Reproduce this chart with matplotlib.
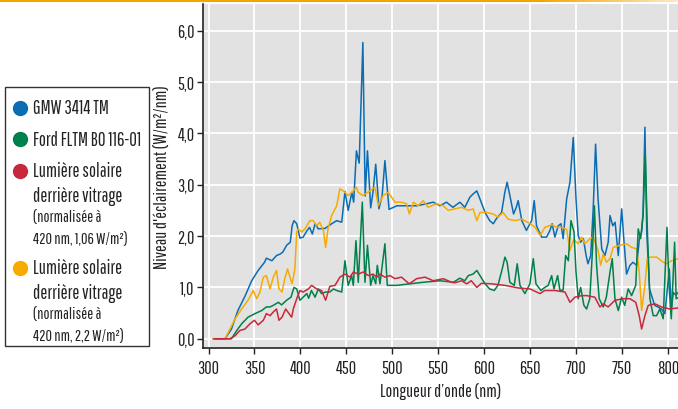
import matplotlib
matplotlib.use("Agg")
import matplotlib.pyplot as plt
import numpy as np
from matplotlib.lines import Line2D
from matplotlib.patches import Rectangle
from matplotlib.colors import LinearSegmentedColormap

plt.rcParams['font.family'] = ['Pathway Gothic One', 'DejaVu Sans']

# --- data (wavelength nm, irradiance W/m2/nm) ---
gmw_nm = [305, 318, 325, 332, 340, 347, 354, 361, 363, 369, 374, 378, 381, 385, 389, 391, 393, 396,
          399.5, 403, 407, 410, 413, 416, 419.5, 427, 434, 439.5, 445, 448.5, 452, 456, 458, 461, 464,
          468, 470.5, 473, 476.5, 479, 482, 485.5, 489, 492, 496.5, 505, 512, 519, 526.5, 535, 544.6,
          552, 559, 566, 573.6, 579, 584.6, 588, 592, 595.5, 601, 606, 610, 613, 619, 622.5, 625, 628,
          632, 635, 637, 641, 646, 651.7, 654.5, 657, 662.6, 668, 671.6, 674, 677, 680.6, 683.6, 686,
          689.8, 693.4, 697, 700, 702.4, 705, 708, 711, 713, 716, 718.7, 721.3, 724, 728, 731.5, 735,
          737, 740, 742.5, 746, 749.7, 752, 755, 758.7, 762, 766, 769, 771.4, 773, 775, 777, 780,
          785.6, 789, 793, 796.8, 801.5, 803.8, 806, 808.7, 811]
gmw_val = [0, 0, 0.19, 0.55, 0.84, 1.13, 1.33, 1.49, 1.57, 1.52, 1.62, 1.65, 1.69, 1.82, 1.88, 2.2, 2.3, 2.24,
           1.96, 1.98, 2.1, 2.17, 2.04, 2.24, 2.14, 2.15, 2.24, 2.3, 2.27, 2.87, 2.5, 2.85, 2.66, 3.66, 3.42,
           5.77, 2.78, 3.66, 2.55, 2.85, 3.4, 2.53, 2.79, 3.47, 2.52, 2.59, 2.59, 2.59, 2.59, 2.62, 2.66,
           2.59, 2.66, 2.56, 2.66, 2.56, 2.76, 2.82, 2.88, 2.72, 2.46, 2.3, 2.24, 2.33, 2.46, 2.85, 3.05, 2.79,
           2.43, 2.56, 2.69, 2.3, 2.11, 2.3, 2.69, 2.2, 1.98, 1.98, 2.11, 2.24, 1.98, 2.2, 2.24, 1.95,
           2.72, 3.05, 3.92, 2.72, 2.01, 1.88, 1.95, 1.62, 1.46, 1.62, 2.53, 3.79, 2.72, 1.75, 1.62, 1.88,
           2.4, 2.2, 2.27, 1.62, 2.53, 1.95, 1.26, 1.43, 1.49, 1.43, 1.95, 2.08, 2.46, 4.12, 2.08, 0.97,
           0.65, 0.62, 0.58, 0.49, 1.36, 0.6, 0.9, 0.85, 0.9]

sun22_nm = [305, 318, 323.4, 329, 336, 343, 348.7, 352.4, 356, 359.6, 363, 367, 370.5, 374, 376.7, 380, 383,
            386, 388.7, 391, 394, 396, 397.7, 401.4, 405, 410.4, 414, 417.7, 421, 425, 427.5, 430, 434,
            439.5, 443, 446.7, 452, 457.6, 461, 463, 468, 475.7, 481, 484.8, 490, 495.6, 503, 510, 515.6,
            518.6, 523, 528, 533.7, 539, 548, 555.5, 561, 568, 575.5, 582.7, 588, 592, 595.5, 602.7, 610,
            615, 620.7, 626, 633.3, 641, 650, 655.5, 661, 666, 673.5, 679, 684, 689.8, 693.4, 697.5, 702.4,
            706, 709.7, 715, 718.7, 724, 726.8, 729.6, 733, 737, 740.5, 747.8, 755, 760.5, 766, 768.8,
            771.4, 775, 777.5, 780.5, 787.7, 795, 798.6, 804, 811]
sun22_val = [0, 0, 0.19, 0.39, 0.58, 0.75, 0.94, 0.78, 0.91, 1.2, 1.23, 0.97, 1.2, 1.33, 0.97, 0.91, 1.17,
             1.36, 1.2, 1.07, 1.36, 2.08, 2.14, 2.08, 2.14, 2.3, 2.3, 2.2, 2.27, 2.11, 1.78, 2.14, 2.4,
             2.59, 2.92, 2.88, 2.79, 2.88, 2.95, 2.85, 2.79, 2.88, 2.95, 2.59, 2.79, 2.85, 2.66, 2.66, 2.63,
             2.43, 2.66, 2.59, 2.69, 2.56, 2.63, 2.59, 2.5, 2.53, 2.56, 2.5, 2.53, 2.3, 2.46, 2.46, 2.43,
             2.37, 2.46, 2.33, 2.3, 2.33, 2.24, 2.17, 2.01, 2.17, 2.22, 2.17, 2.17, 2.13, 1.72, 1.93, 1.85,
             1.98, 1.85, 1.95, 1.98, 1.72, 1.43, 1.65, 1.49, 1.56, 1.78, 1.82, 1.85, 1.78, 1.75, 1.3,
             0.55, 1.04, 1.56, 1.59, 1.59, 1.49, 1.46, 1.52, 1.56]

ford_nm = [308, 325, 330.7, 336, 343, 350.6, 358, 363, 367, 370.5, 376, 379.6, 385, 389.8, 393, 396, 399.5,
           403, 407, 409, 412, 416, 419.5, 423, 427.5, 432, 436, 439.5, 445, 448.5, 452, 455.8, 457.6,
           460.5, 463, 467.4, 470.3, 473, 476.5, 479, 482, 483.7, 486.6, 492, 494.6, 504.8, 519, 533.7,
           552, 566.4, 573.6, 579, 582.7, 588, 592, 595.5, 601, 606, 611, 615, 619.7, 622.6, 625, 628,
           632.8, 636, 639, 644.4, 649.8, 653.5, 656.4, 661.8, 666, 669.7, 673.5, 676, 680, 682.5, 686,
           688.7, 691.6, 694.5, 697.8, 700, 702.4, 705, 708.6, 711.5, 715, 718, 720, 722.4, 725.2, 729.6,
           733, 737, 739.4, 742.4, 746, 749.7, 753, 756.8, 760.5, 765, 767.7, 770.3, 773, 775.3, 777.7,
           780.4, 784, 787.7, 791.3, 794.9, 799, 801, 803.7, 807.3, 809, 811]
ford_val = [0, 0, 0.16, 0.29, 0.42, 0.49, 0.55, 0.62, 0.62, 0.65, 0.71, 0.66, 0.75, 0.81, 1.0, 0.97, 0.75,
            0.81, 0.88, 0.79, 0.94, 0.81, 0.97, 0.88, 0.91, 0.91, 0.97, 0.94, 0.91, 1.52, 1.04, 1.23, 1.04,
            1.91, 1.1, 2.66, 1.1, 1.82, 1.04, 1.23, 1.07, 1.43, 1.07, 1.85, 1.04, 1.04, 1.07, 1.1,
            1.13, 1.1, 1.18, 1.13, 1.23, 1.26, 1.33, 1.23, 1.07, 0.97, 0.94, 1.04, 1.36, 1.59, 1.49, 1.1,
            1.04, 1.46, 1.04, 0.88, 1.07, 1.56, 1.07, 0.94, 1.0, 1.04, 1.23, 0.97, 1.23, 0.94, 0.95,
            1.62, 1.52, 2.3, 2.08, 1.3, 0.78, 1.0, 0.65, 0.58, 0.78, 1.75, 2.59, 1.43, 0.78, 0.62,
            0.81, 1.3, 1.56, 0.78, 0.55, 0.81, 0.65, 0.97, 0.84, 1.04, 2.14, 1.95, 2.4, 3.6, 2.08,
            0.78, 0.45, 0.45, 0.58, 0.39, 2.17, 1.1, 0.39, 1.88, 0.78, 0.8]

sun106_nm = [306, 323.4, 329, 334, 339.7, 345, 350, 354, 359.7, 363, 367, 370.5, 374, 376.7, 380, 384,
             387.6, 390.5, 392.3, 396, 399.5, 403, 408.6, 412.3, 417.7, 423, 427.5, 432, 437.7, 443,
             448.5, 454, 457.6, 463, 468.5, 474, 479, 483, 486.6, 492, 497.5, 503, 510, 518.5, 526.5,
             535.6, 544.6, 555.5, 564.6, 568, 575.5, 581, 586, 592, 597, 608, 622.6, 637, 650, 660.7,
             666, 677, 688, 693.4, 698.8, 706, 711.5, 720.5, 726, 729.6, 735, 742.4, 751.4, 758.7, 765,
             768.8, 771.4, 775, 778.6, 785.9, 793, 802, 811]
sun106_val = [0, 0, 0.06, 0.16, 0.19, 0.29, 0.36, 0.27, 0.36, 0.49, 0.45, 0.52, 0.58, 0.36, 0.42, 0.58,
              0.49, 0.42, 0.58, 0.78, 0.94, 0.91, 0.97, 1.04, 0.97, 0.94, 0.75, 1.02, 1.04, 1.2,
              1.26, 1.2, 1.3, 1.26, 1.3, 1.23, 1.26, 1.2, 1.26, 1.2, 1.23, 1.17, 1.2, 1.07, 1.17,
              1.2, 1.13, 1.17, 1.1, 1.09, 1.13, 1.07, 1.13, 1.0, 1.08, 1.07, 1.04, 0.99, 0.97, 0.88,
              0.94, 0.94, 0.91, 0.71, 0.81, 0.84, 0.84, 0.81, 0.62, 0.68, 0.62, 0.75, 0.78, 0.78, 0.71,
              0.45, 0.19, 0.45, 0.65, 0.68, 0.62, 0.58, 0.6]

x_ticks = [300, 350, 400, 450, 500, 550, 600, 650, 700, 750, 800]
y_ticks = [0, 1, 2, 3, 4, 5, 6]

blue = "#0a6db3"
green = "#00804a"
red = "#c8283a"
orange = "#f7ab00"
ink = "#222222"

fig = plt.figure(figsize=(6.78, 4.10), dpi=100)
ax = fig.add_axes([203 / 678, 1 - 349 / 410, 1 - 203 / 678, 344 / 410])
ax.set_facecolor("#e2e2e2")

ax.plot(gmw_nm, gmw_val, color=blue, lw=1.1)
ax.plot(sun22_nm, sun22_val, color=orange, lw=1.1)
ax.plot(ford_nm, ford_val, color=green, lw=1.1)
ax.plot(sun106_nm, sun106_val, color=red, lw=1.1)

ax.set_xlim(294, 811)
ax.set_ylim(-0.18, 6.52)
ax.set_xticks(x_ticks)
ax.set_xticklabels([str(v) for v in x_ticks], fontsize=13)
ax.set_yticks(y_ticks)
ax.set_yticklabels([f"{v:.1f}".replace(".", ",") for v in y_ticks], fontsize=13)
ax.grid(True, color="white", lw=1.3)
ax.set_axisbelow(True)
for s in ["top", "right"]:
    ax.spines[s].set_visible(False)
for s in ["left", "bottom"]:
    ax.spines[s].set_color(ink)
    ax.spines[s].set_linewidth(1.2)
ax.tick_params(axis="both", direction="out", length=4, width=1, color=ink, labelcolor=ink)
ax.tick_params(axis="y", pad=2)
ax.tick_params(axis="x", pad=5)

fig.text(163 / 678, 1 - 177 / 410, "Niveau d'éclairement (W/m²/nm)", rotation=90,
         ha="center", va="center", fontsize=13, color=ink)
fig.text(441 / 678, 1 - 392 / 410, "Longueur d’onde (nm)", ha="center", va="center",
         fontsize=13, color=ink)

# orange band at the top
band = fig.add_axes([0, 1 - 3 / 410, 1, 3 / 410])
cmap = LinearSegmentedColormap.from_list("band", [(0, "#f4a600"), (0.8, "#f4a600"), (1, "#fde8c6")])
band.imshow(np.linspace(0, 1, 300)[None, :], aspect="auto", cmap=cmap)
band.axis("off")

# legend box
fig.patches.append(Rectangle((5 / 678, 1 - 347 / 410), 144 / 678, 259 / 410, transform=fig.transFigure,
                             fill=False, edgecolor="#333333", lw=1.0))
legend_colors = [blue, green, red, orange]
legend_main = [["GMW 3414 TM"], ["Ford FLTM BO 116-01"],
               ["Lumière solaire", "derrière vitrage"], ["Lumière solaire", "derrière vitrage"]]
legend_note = [[], [], ["(normalisée à", "420 nm, 1,06 W/m²)"], ["(normalisée à", "420 nm, 2,2 W/m²)"]]
legend_top = [109, 140, 172, 269]
for c, main, note, y0 in zip(legend_colors, legend_main, legend_note, legend_top):
    fig.add_artist(Line2D([19.5 / 678], [1 - y0 / 410], marker="o", markersize=10, color=c,
                          transform=fig.transFigure))
    y = y0
    for line in main:
        fig.text(33 / 678, 1 - y / 410, line, ha="left", va="center", fontsize=13.5, color=ink)
        y += 25
    y -= 4
    for line in note:
        fig.text(33 / 678, 1 - y / 410, line, ha="left", va="center", fontsize=11.5, color=ink)
        y += 22

fig.savefig("out.png", dpi=100)
